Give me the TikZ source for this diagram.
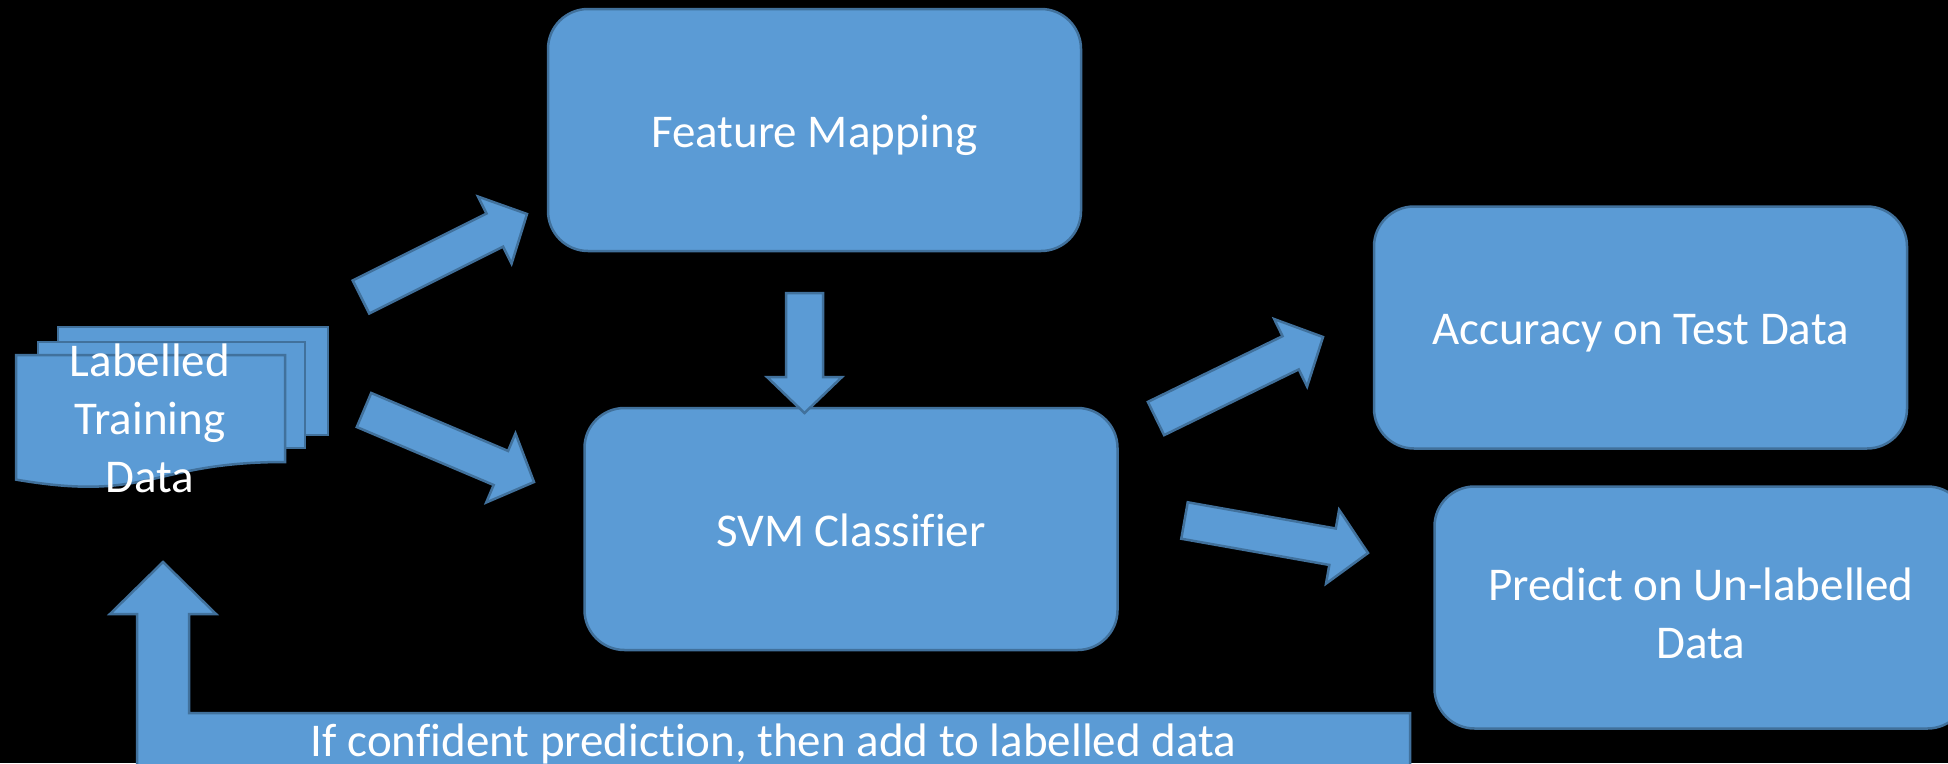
\documentclass[tikz,border=0pt]{standalone}
\usepackage{fontspec}
\setmainfont{Carlito}[Ligatures={NoCommon}]
\usetikzlibrary{calc}
\definecolor{boxfill}{HTML}{5B9BD5}
\definecolor{boxline}{HTML}{41719C}
\tikzset{
  shapestyle/.style={fill=boxfill, draw=boxline, line width=2.5pt, line join=miter},
  procbox/.style={shapestyle, rounded corners=40pt, minimum width=533pt, minimum height=242pt,
    text=white, font=\fontsize{47}{58}\selectfont, align=center, inner sep=0pt},
  onelinebox/.style={procbox, text height=34pt, text depth=0pt},
  doctext/.style={text=white, font=\fontsize{47}{58}\selectfont, align=center, inner sep=0pt},
  blockarrowstyle/.style={shapestyle}
}
\newcommand{\blockarrow}[2]{%
  \path ($(#2)!36pt!(#1)$) coordinate (bah);
  \draw[blockarrowstyle] ($(#1)!18.5pt!90:(#2)$) -- ($(bah)!18.5pt!90:(#2)$) -- ($(bah)!37.5pt!90:(#2)$) -- (#2)
    -- ($(bah)!37.5pt!-90:(#2)$) -- ($(bah)!18.5pt!-90:(#2)$) -- ($(#1)!18.5pt!-90:(#2)$) -- cycle;}
\begin{document}
\begin{tikzpicture}[x=1pt,y=-1pt]
  \useasboundingbox (0,0) rectangle (1948,763);
  \fill[black] (0,0) rectangle (1948,763);
  \clip (0,0) rectangle (1948,763);

  % multi-document
  \draw[shapestyle] (58,327) rectangle (328,435);
  \draw[shapestyle] (38,342) rectangle (305,448);
  \draw[shapestyle] (16,355) -- (285,355) -- (285,462) .. controls (150.5,462) and (150.5,502.7) .. (16,479.6) -- cycle;
  \node[doctext] (doc) at (150,418) {Labelled\\Training\\Data};

  % boxes
  \node[onelinebox] (feat) at (814.5,130) {Feature Mapping};
  \node[onelinebox] (svm) at (851,529) {SVM Classifier};
  \node[onelinebox] (acc) at (1640.5,327.5) {Accuracy on Test Data};
  \node[procbox] (pred) at (1701,607.5) {\rule{0pt}{44pt}Predict on Un-labelled\\Data};

  % block arrows
  \coordinate (a1s) at (361,297);    \coordinate (a1e) at (527,214);
  \coordinate (a2s) at (364,410);    \coordinate (a2e) at (534,482);
  \coordinate (a3s) at (804.5,293);  \coordinate (a3e) at (804.5,413);
  \coordinate (a4s) at (1156,418.5); \coordinate (a4e) at (1323,337);
  \coordinate (a5s) at (1184.5,520.5); \coordinate (a5e) at (1368,553);
  \blockarrow{a1s}{a1e}
  \blockarrow{a2s}{a2e}
  \blockarrow{a3s}{a3e}
  \blockarrow{a4s}{a4e}
  \blockarrow{a5s}{a5e}

  % feedback bent arrow
  \coordinate (fbtip) at (163,562);
  \draw[shapestyle] (fbtip) -- (216,614) -- (189,614) -- (189,713) -- (1410,713) -- (1410,768)
    -- (137,768) -- (137,614) -- (110,614) -- cycle;
  \node[doctext, anchor=base] (fblabel) at (773.5,756) {If confident prediction, then add to labelled data};
\end{tikzpicture}
\end{document}
